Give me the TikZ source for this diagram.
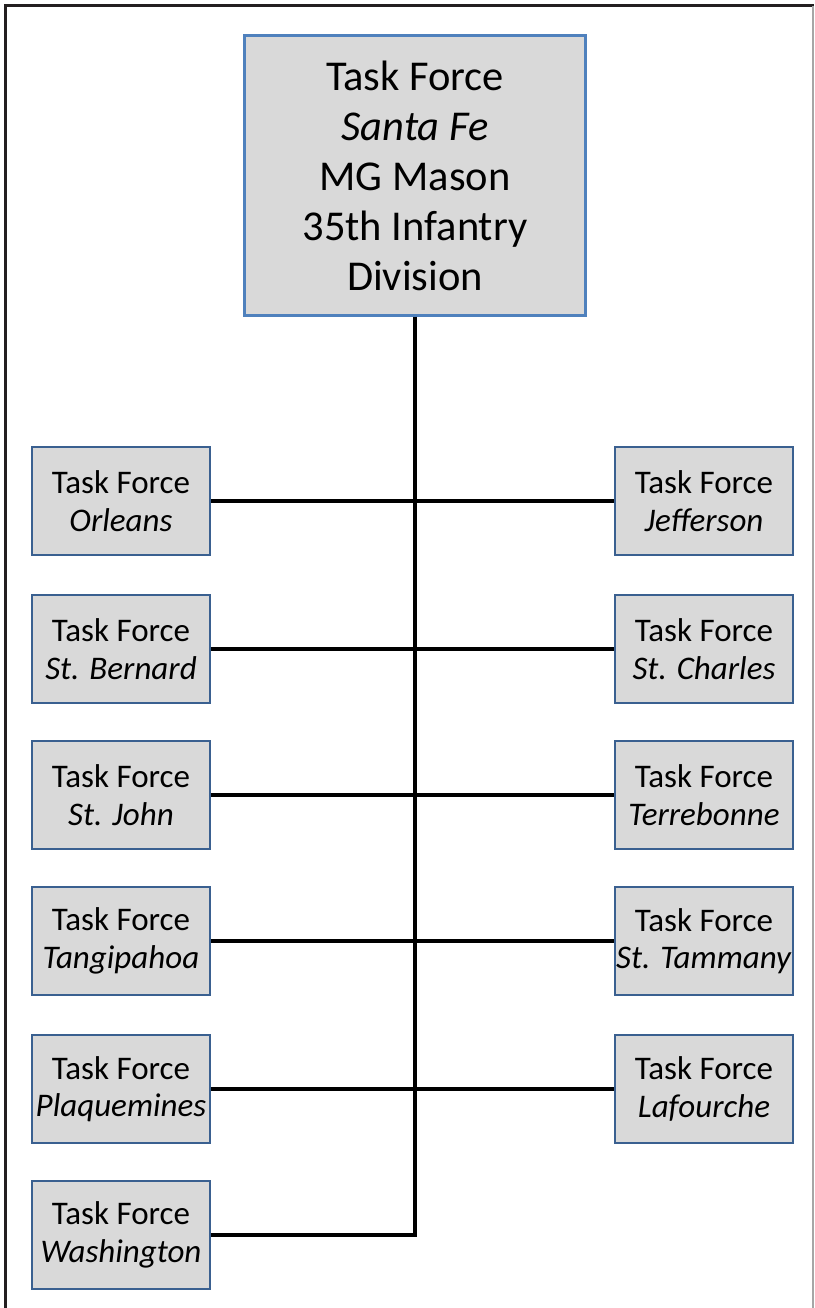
\documentclass[tikz,border=0pt]{standalone}
\usepackage{fontspec}
\setmainfont{Carlito}
\usepackage{tikz}
\usetikzlibrary{positioning}
\definecolor{boxfill}{HTML}{D9D9D9}
\definecolor{chiefblue}{HTML}{4F81BD}
\definecolor{unitblue}{HTML}{3A6090}
\definecolor{framedark}{HTML}{231F20}

\begin{document}
\begin{tikzpicture}[x=1pt, y=-1pt,
    chiefbox/.style={draw=chiefblue, line width=3pt, fill=boxfill, align=center,
        minimum width=341pt, minimum height=279pt, inner sep=0pt,
        font=\fontsize{42.5}{50}\selectfont},
    unitbox/.style={draw=unitblue, line width=2.8pt, fill=boxfill, align=center,
        minimum width=178pt, minimum height=108pt, inner sep=0pt,
        font=\fontsize{33}{37.5}\selectfont},
    link/.style={line width=4.6pt, black}]
    \useasboundingbox (0,0) rectangle (814,1308);

    % Page frame
    \draw[framedark, line width=3pt] (5,1308) -- (5,6) -- (814,6);
    \draw[gray!70, line width=1.5pt] (813,6) -- (813,1308);

    % Head of the chain
    \node[chiefbox] (chief) at (415,175.5) {Task Force\\\textit{Santa Fe}\\MG Mason\\35th Infantry\\Division};

    % Left column
    \foreach \name/\parish/\y in {orl/Orleans/501, stb/St. Bernard/649, stj/St. John/795,
                                  tan/Tangipahoa/941, plq/Plaquemines/1089, wsh/Washington/1235} {
        \node[unitbox] (\name) at (121,\y) {Task Force\\\textit{\parish}};
    }

    % Right column
    \foreach \name/\parish/\y in {jef/Jefferson/501, stc/St. Charles/649, ter/Terrebonne/795,
                                  sttam/St. Tammany/941, laf/Lafourche/1089} {
        \node[unitbox] (\name) at (704,\y) {Task Force\\\textit{\parish}};
    }

    % Connectors
    \coordinate (trunk) at (chief.south |- wsh.east);
    \draw[link] (chief.south) -- (trunk) -- (wsh.east);
    \foreach \a/\b in {orl/jef, stb/stc, stj/ter, tan/sttam, plq/laf} {
        \draw[link] (\a.east) -- (\b.west);
    }
\end{tikzpicture}
\end{document}
